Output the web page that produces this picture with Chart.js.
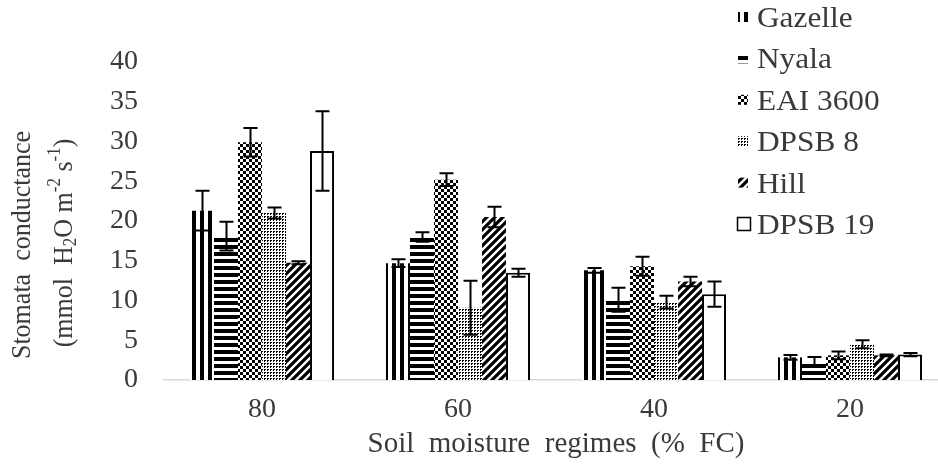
<!DOCTYPE html>
<html>
<head>
<meta charset="utf-8">
<script src="https://cdn.jsdelivr.net/npm/chart.js@4"></script>
<style>
html,body{margin:0;padding:0;background:#fff;overflow:hidden;}
#wrap{width:960px;height:467px;}
</style>
</head>
<body>
<div id="wrap"><canvas id="c" width="960" height="467"></canvas></div>
<script>
// ---- data ----
const categories = ['80', '60', '40', '20'];
const seriesNames = ['Gazelle', 'Nyala', 'EAI 3600', 'DPSB 8', 'Hill', 'DPSB 19'];
const gazelle = [21.3, 14.7, 13.8, 2.85];
const nyala   = [18.1, 18.0, 10.1, 2.3];
const eai3600 = [29.9, 25.2, 14.3, 3.1];
const dpsb8   = [21.0, 9.1, 9.8, 4.5];
const hill    = [14.75, 20.5, 12.4, 3.1];
const dpsb19  = [28.8, 13.5, 10.8, 3.2];
const gazelleErr = [2.5, 0.5, 0.3, 0.3];
const nyalaErr   = [1.8, 0.6, 1.5, 0.6];
const eai3600Err = [1.8, 0.8, 1.2, 0.5];
const dpsb8Err   = [0.7, 3.4, 0.8, 0.5];
const hillErr    = [0.2, 1.3, 0.6, 0.1];
const dpsb19Err  = [5.0, 0.5, 1.6, 0.2];
const yTicks = [0, 5, 10, 15, 20, 25, 30, 35, 40];
const xTitle = 'Soil  moisture  regimes  (%  FC)';
const yTitle1 = 'Stomata  conductance';

const values = [gazelle, nyala, eai3600, dpsb8, hill, dpsb19];
const errors = [gazelleErr, nyalaErr, eai3600Err, dpsb8Err, hillErr, dpsb19Err];

// ---- patterns ----
function tile(w, h, draw) {
  const c = document.createElement('canvas');
  c.width = w; c.height = h;
  const g = c.getContext('2d');
  g.fillStyle = '#fff'; g.fillRect(0, 0, w, h);
  g.fillStyle = '#000'; g.strokeStyle = '#000';
  draw(g);
  return document.getElementById('c').getContext('2d').createPattern(c, 'repeat');
}
const patVert = tile(8, 8, g => { g.fillRect(0, 0, 4, 8); });
const patHoriz = tile(8, 7, g => { g.fillRect(0, 0, 8, 4); });
const patCheck = tile(6, 6, g => { g.fillRect(0, 0, 3, 3); g.fillRect(3, 3, 3, 3); });
const patDots = tile(3, 3, g => { g.fillRect(0, 0, 2, 1); g.fillRect(0, 1, 1, 1); });
const patDiag = tile(8, 8, g => {
  g.lineWidth = 3.2;
  g.beginPath();
  g.moveTo(-2, 10); g.lineTo(10, -2);
  g.moveTo(-6, 6); g.lineTo(6, -6);
  g.moveTo(2, 14); g.lineTo(14, 2);
  g.stroke();
});
const fills = [patVert, patHoriz, patCheck, patDots, patDiag, '#ffffff'];

const TEXT = '#3a3a3a';
const FONT = '"Liberation Serif", "Times New Roman", serif';

const datasets = values.map((v, i) => ({
  label: seriesNames[i],
  data: v,
  backgroundColor: fills[i],
  borderColor: '#000',
  borderWidth: i === 5 ? 2 : 0,
  barPercentage: 1.0,
  categoryPercentage: 0.735
}));

const errorBars = {
  id: 'errorBars',
  afterDatasetsDraw(chart) {
    const ctx = chart.ctx, ys = chart.scales.y;
    ctx.save();
    ctx.strokeStyle = '#000';
    ctx.lineWidth = 2;
    chart.data.datasets.forEach((ds, i) => {
      const meta = chart.getDatasetMeta(i);
      meta.data.forEach((bar, j) => {
        const v = ds.data[j], e = errors[i][j];
        const x = Math.round(bar.x) + 0.5;
        const yt = ys.getPixelForValue(v + e), yb = ys.getPixelForValue(v - e);
        ctx.beginPath();
        ctx.moveTo(x, yt); ctx.lineTo(x, yb);
        ctx.moveTo(x - 7, yt); ctx.lineTo(x + 7, yt);
        ctx.moveTo(x - 7, yb); ctx.lineTo(x + 7, yb);
        ctx.stroke();
      });
    });
    ctx.restore();
  }
};

const texts = {
  id: 'texts',
  afterDraw(chart) {
    const ctx = chart.ctx, ca = chart.chartArea;
    ctx.save();
    ctx.fillStyle = TEXT;
    // x title
    ctx.font = '29px ' + FONT;
    ctx.textAlign = 'center';
    ctx.textBaseline = 'alphabetic';
    ctx.fillText(xTitle, (ca.left + ca.right) / 2, 452);

    // y title (rotated)
    ctx.save();
    ctx.translate(23, 245);
    ctx.rotate(-Math.PI / 2);
    ctx.scale(1, 1.08);
    ctx.font = '26px ' + FONT;
    ctx.textAlign = 'center';
    ctx.textBaseline = 'middle';
    ctx.fillText(yTitle1, 0, 0);
    ctx.restore();

    ctx.save();
    ctx.translate(65, 243);
    ctx.rotate(-Math.PI / 2);
    ctx.scale(1, 1.08);
    const big = '26px ' + FONT, small = '17px ' + FONT;
    const parts = [
      ['(mmol  H', big, 0], ['2', small, 6], ['O m', big, 0], ['-2', small, -9],
      [' s', big, 0], ['-1', small, -9], [')', big, 0]
    ];
    let total = 0;
    parts.forEach(p => { ctx.font = p[1]; total += ctx.measureText(p[0]).width; });
    let px = -total / 2;
    ctx.textAlign = 'left';
    ctx.textBaseline = 'middle';
    parts.forEach(p => {
      ctx.font = p[1];
      ctx.fillText(p[0], px, p[2]);
      px += ctx.measureText(p[0]).width;
    });
    ctx.restore();

    // legend
    chart.data.datasets.forEach((ds, i) => {
      const base = 27 + i * 41.4;
      const cy = base - 10;
      ctx.fillStyle = ds.backgroundColor;
      if (i === 5) {
        ctx.fillRect(737, cy - 7, 14, 14);
        ctx.strokeStyle = '#000';
        ctx.lineWidth = 1.5;
        ctx.strokeRect(737.5, cy - 6.5, 13, 13);
      } else {
        ctx.fillRect(738, cy - 5, 10, 10);
      }
      ctx.save();
      ctx.translate(757, base);
      ctx.scale(1.08, 1);
      ctx.font = '29px ' + FONT;
      ctx.textAlign = 'left';
      ctx.textBaseline = 'alphabetic';
      ctx.fillStyle = TEXT;
      ctx.fillText(ds.label, 0, 0);
      ctx.restore();
    });
    ctx.restore();
  }
};

new Chart(document.getElementById('c'), {
  type: 'bar',
  data: { labels: categories, datasets },
  options: {
    responsive: false,
    animation: false,
    layout: { padding: { top: 62, right: 12, left: 0, bottom: 0 } },
    plugins: { legend: { display: false }, tooltip: { enabled: false } },
    scales: {
      x: {
        grid: { display: false, drawTicks: false },
        border: { display: true, color: '#d9d9d9', width: 1.5 },
        ticks: { color: TEXT, font: { family: FONT, size: 28 }, padding: 13 },
        afterFit(s) { s.height = 87; }
      },
      y: {
        min: 0, max: 40,
        afterBuildTicks(s) { s.ticks = yTicks.map(v => ({ value: v })); },
        grid: { display: false, drawTicks: false },
        border: { display: false },
        ticks: { color: TEXT, font: { family: FONT, size: 28 }, padding: 26 },
        afterFit(s) { s.width = 164; }
      }
    }
  },
  plugins: [errorBars, texts]
});
</script>
</body>
</html>
